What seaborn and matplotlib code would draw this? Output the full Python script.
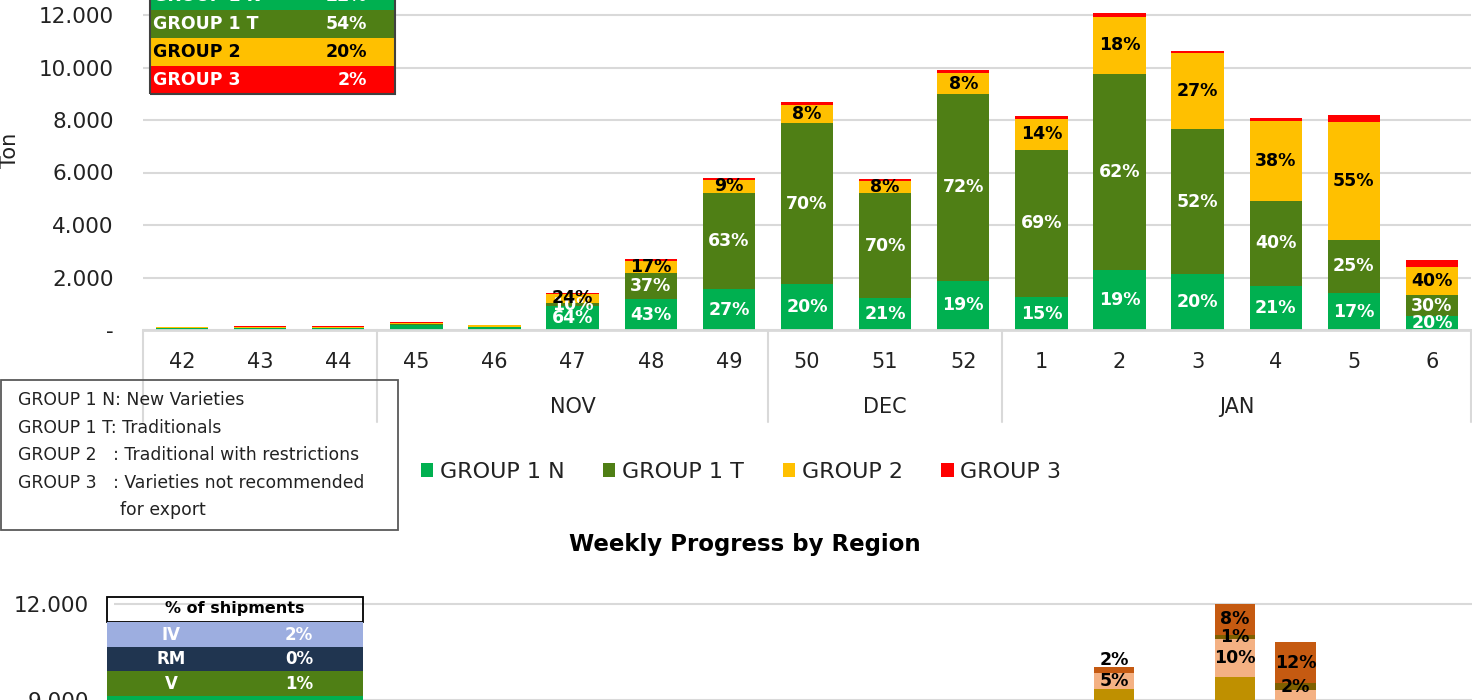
import numpy as np
import pandas as pd
import matplotlib
matplotlib.use("Agg")
import matplotlib.pyplot as plt
import seaborn as sns
from matplotlib.patches import Rectangle, Patch
from matplotlib.lines import Line2D

# ---------------- data: top chart ----------------
weeks = ["42", "43", "44", "45", "46", "47", "48", "49", "50", "51", "52",
         "1", "2", "3", "4", "5", "6"]
week_month = ["", "", "", "NOV", "NOV", "NOV", "NOV", "NOV", "DEC", "DEC", "DEC",
              "JAN", "JAN", "JAN", "JAN", "JAN", "JAN"]
groups = ["GROUP 1 N", "GROUP 1 T", "GROUP 2", "GROUP 3"]
g1n = [60, 60, 60, 200, 110, 900, 1170, 1560, 1750, 1205, 1880, 1245, 2300, 2120, 1680, 1400, 535]
g1t = [30, 30, 30, 20, 20, 140, 1000, 3650, 6120, 4020, 7100, 5625, 7470, 5540, 3240, 2040, 790]
g2 = [15, 30, 30, 50, 50, 335, 460, 520, 700, 470, 810, 1158, 2170, 2910, 3030, 4500, 1070]
g3 = [10, 30, 30, 30, 10, 30, 90, 60, 120, 60, 110, 120, 120, 70, 110, 260, 260]
season_share = [22, 54, 20, 2]
definitions = ["GROUP 1 N: New Varieties",
               "GROUP 1 T: Traditionals",
               "GROUP 2   : Traditional with restrictions",
               "GROUP 3   : Varieties not recommended"]
definitions_cont = "for export"

# ---------------- data: bottom chart ----------------
weeks2 = ["42", "43", "44", "45", "46", "47", "48", "49", "50", "51", "52",
          "1", "2", "3", "4", "5", "6", "7", "8", "9", "10", "11", "12"]
regions = ["VI", "VII", "VIII", "IX", "X"]
r_vi = [0] * 16 + [6830, 0, 7780, 4804, 0, 0, 0]
r_vii = [0] * 16 + [2500, 0, 1940, 2500, 0, 0, 0]
r_viii = [0] * 16 + [500, 0, 1200, 2000, 0, 0, 0]
r_ix = [0] * 16 + [0, 0, 120, 216, 0, 0, 0]
r_x = [0] * 16 + [200, 0, 960, 1300, 0, 0, 0]
ship_regions = ["IV", "RM", "V", ""]
ship_share = [2, 0, 1, None]

# ---------------- styling ----------------
colors = {"GROUP 1 N": "#00B050", "GROUP 1 T": "#4F7F15",
          "GROUP 2": "#FFC000", "GROUP 3": "#FF0000"}
label_colors = {"GROUP 1 N": "white", "GROUP 1 T": "white", "GROUP 2": "black"}
reg_colors = {"VI": "#00B050", "VII": "#BF9000", "VIII": "#F4B183",
              "IX": "#7F6000", "X": "#C55A11"}
ship_colors = ["#9DAEE0", "#203550", "#4F7F15", "#00B050"]
GRID = "#D9D9D9"

sns.set_theme(style="white")
plt.rcParams["font.family"] = ["DejaVu Sans"]

W, H = 1472, 700
fig = plt.figure(figsize=(W / 100, H / 100), dpi=100)


def fx(x):
    return x / W


def fy(y):
    return 1 - y / H


def fmt(v):
    return "-" if v == 0 else f"{int(v):,}".replace(",", ".")


# ================= top chart =================
df = pd.DataFrame({"week": weeks, "GROUP 1 N": g1n, "GROUP 1 T": g1t,
                   "GROUP 2": g2, "GROUP 3": g3})
cum = df[groups].cumsum(axis=1)
cum["week"] = df["week"]
total = cum["GROUP 3"]

ax = fig.add_axes([fx(143), fy(330), (1471 - 143) / W, 330 / H])
for g in reversed(groups):
    sns.barplot(data=cum, x="week", y=g, order=weeks, color=colors[g],
                width=0.67, saturation=1, linewidth=0, errorbar=None, ax=ax)

ax.set_xlim(-0.5, len(weeks) - 0.5)
ax.set_ylim(0, 330 / 0.02625)
yt = list(range(0, 12001, 2000))
ax.set_yticks(yt, [fmt(v) for v in yt])
ax.yaxis.grid(True, color=GRID, lw=1.5)
ax.set_axisbelow(True)
ax.set_xlabel("")
ax.set_ylabel("")
for s in ["top", "right", "left"]:
    ax.spines[s].set_visible(False)
ax.spines["bottom"].set_color(GRID)
ax.spines["bottom"].set_linewidth(2)
ax.set_xticks(range(len(weeks)), weeks)
ax.tick_params(axis="x", length=0, pad=16, labelsize=15, colors="#222222")
ax.tick_params(axis="y", length=0, pad=21, labelsize=15.5, colors="#222222")

# data labels
for i in range(len(weeks)):
    tot = total[i]
    if tot < 1000:
        continue
    for g in ["GROUP 1 T", "GROUP 1 N", "GROUP 2"]:
        v = df[g][i]
        pct = int(round(100 * v / tot))
        ax.text(i, cum[g][i] - v / 2, f"{pct}%", ha="center", va="center",
                color=label_colors[g], fontsize=12.5, fontweight="bold")

# multi-level category axis: separators and month labels
xt = ax.get_xaxis_transform()
bounds = [-0.5] + [i - 0.5 for i in range(1, len(weeks)) if week_month[i] != week_month[i - 1]] + [len(weeks) - 0.5]
for b in bounds:
    ax.add_line(Line2D([b, b], [0, -92 / 330], transform=xt, color=GRID,
                       lw=1.5, clip_on=False))
for a, b in zip(bounds[:-1], bounds[1:]):
    m = week_month[int(a + 0.5)]
    if m:
        ax.text((a + b) / 2, -77 / 330, m, transform=xt, ha="center",
                va="center", fontsize=15, color="#222222")

fig.text(fx(10), fy(150), "Ton", rotation=90, ha="center", va="center",
         fontsize=15, color="#222222")

# season share table (top-left)
for k, (g, s) in enumerate(zip(groups, season_share)):
    top = -18 + 28 * k
    fig.add_artist(Rectangle((fx(150), fy(top + 28)), (395 - 150) / W, 28 / H,
                             transform=fig.transFigure, facecolor=colors[g],
                             edgecolor="none"))
    tc = "black" if g == "GROUP 2" else "white"
    fig.text(fx(153), fy(top + 14), g, ha="left", va="center", color=tc,
             fontsize=12.5, fontweight="bold")
    fig.text(fx(367), fy(top + 14), f"{s}%", ha="right", va="center", color=tc,
             fontsize=12.5, fontweight="bold")
fig.add_artist(Rectangle((fx(150), fy(94)), (395 - 150) / W, 112 / H,
                         transform=fig.transFigure, facecolor="none",
                         edgecolor="#404040", lw=1.5))

# definitions box
fig.add_artist(Rectangle((fx(0.5), fy(530)), 397.5 / W, 150 / H,
                         transform=fig.transFigure, facecolor="none",
                         edgecolor="#595959", lw=1.3))
for k, t in enumerate(definitions):
    fig.text(fx(18), fy(400 + 27.7 * k), t, ha="left", va="center",
             fontsize=12.4, color="#222222")
fig.text(fx(120), fy(510), definitions_cont, ha="left", va="center",
         fontsize=12.4, color="#222222")

# legend
handles = [Patch(facecolor=colors[g], edgecolor="none") for g in groups]
fig.legend(handles, groups, loc="center", bbox_to_anchor=(fx(741), fy(472)),
           ncol=4, frameon=False, fontsize=16, handlelength=0.55,
           handleheight=0.55, handletextpad=0.3, columnspacing=1.75,
           labelcolor="#222222")

# ================= bottom chart =================
fig.text(fx(745), fy(545), "Weekly Progress by Region", ha="center",
         va="center", fontsize=16.5, fontweight="bold", color="black")

df2 = pd.DataFrame({"week": weeks2, "VI": r_vi, "VII": r_vii, "VIII": r_viii,
                    "IX": r_ix, "X": r_x})
cum2 = df2[regions].cumsum(axis=1)
cum2["week"] = df2["week"]
total2 = cum2["X"]

ymax2 = 12300
top_px = 604 - (ymax2 - 12000) * 0.032
bot_px = 604 + 12000 * 0.032
ax2 = fig.add_axes([fx(114), fy(bot_px), (23 * 60.6) / W,
                    (bot_px - top_px) / H])
for r in reversed(regions):
    sns.barplot(data=cum2, x="week", y=r, order=weeks2, color=reg_colors[r],
                width=0.67, saturation=1, linewidth=0, errorbar=None, ax=ax2)
ax2.set_xlim(-0.5, len(weeks2) - 0.5)
ax2.set_ylim(0, ymax2)
yt2 = list(range(0, 12001, 3000))
ax2.set_yticks(yt2, [fmt(v) for v in yt2])
ax2.yaxis.grid(True, color=GRID, lw=1.5)
ax2.set_axisbelow(True)
ax2.set_xlabel("")
ax2.set_ylabel("")
ax2.set_xticks([])
for s in ["top", "right", "left", "bottom"]:
    ax2.spines[s].set_visible(False)
ax2.tick_params(axis="y", length=0, pad=18, labelsize=15.5, colors="#222222")

# lowest value whose label can still reach the visible canvas
visible_min = 12000 - (H + 8 - 604) / 0.032
for i in range(len(weeks2)):
    tot = total2[i]
    if tot <= 0:
        continue
    nz = [r for r in regions if df2[r][i] > 0]
    for r in nz:
        v = df2[r][i]
        pct = int(round(100 * v / tot))
        yc = cum2[r][i] - v / 2
        if yc < visible_min:
            continue
        if r == nz[-1] and pct <= 2:
            ax2.text(i, cum2[r][i] - 60, f"{pct}%", ha="center", va="bottom",
                     color="black", fontsize=12.5, fontweight="bold")
        else:
            ax2.text(i, yc, f"{pct}%", ha="center", va="center",
                     color="black", fontsize=12.5, fontweight="bold")

# shipments table
fig.add_artist(Rectangle((fx(107), fy(622)), (363 - 107) / W, 25 / H,
                         transform=fig.transFigure, facecolor="none",
                         edgecolor="black", lw=1.3))
fig.text(fx(235), fy(609), "% of shipments", ha="center", va="center",
         fontsize=11.5, fontweight="bold", color="black")
for k, (r, s) in enumerate(zip(ship_regions, ship_share)):
    top = 622 + 24.7 * k
    fig.add_artist(Rectangle((fx(107), fy(top + 24.7)), (363 - 107) / W, 24.7 / H,
                             transform=fig.transFigure, facecolor=ship_colors[k],
                             edgecolor="none"))
    if s is not None:
        fig.text(fx(171), fy(top + 12.5), r, ha="center", va="center",
                 color="white", fontsize=12, fontweight="bold")
        fig.text(fx(299), fy(top + 12.5), f"{s}%", ha="center", va="center",
                 color="white", fontsize=12, fontweight="bold")

fig.savefig("out.png", dpi=100)
